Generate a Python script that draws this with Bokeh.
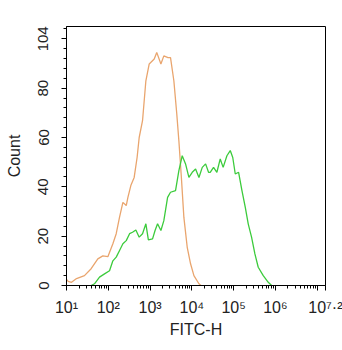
from bokeh.plotting import figure
from bokeh.models import FixedTicker
from bokeh.embed import file_html
from bokeh.resources import INLINE

# FITC-H positions given as decades (log10 of intensity) and counts
iso_log = [1.0, 1.04, 1.12, 1.24, 1.43, 1.59, 1.75, 1.87, 1.99, 2.11, 2.19, 2.27, 2.35, 2.43,
           2.47, 2.54, 2.62, 2.69, 2.74, 2.82, 2.90, 2.98, 3.10, 3.16, 3.26, 3.33, 3.43, 3.49,
           3.57, 3.64, 3.69, 3.75, 3.81, 3.89, 3.97, 4.05, 4.17, 4.22]
iso_count = [2.5, 1.7, 1.3, 2.8, 4.0, 6.8, 10.8, 12.0, 11.7, 16.9, 21.0, 27.7, 33.7, 32.4,
             35.7, 40.5, 43.8, 51.9, 60.0, 66.8, 83.0, 89.8, 91.8, 94.5, 89.8, 93.1, 92.4, 92.4,
             83.0, 69.5, 58.7, 43.8, 27.6, 15.5, 8.8, 4.0, 0.7, 0.0]

ab_log = [1.59, 1.67, 1.79, 1.91, 2.03, 2.11, 2.19, 2.27, 2.35, 2.43, 2.51, 2.58, 2.66, 2.74,
          2.82, 2.90, 2.96, 3.06, 3.12, 3.18, 3.26, 3.33, 3.42, 3.49, 3.61, 3.69, 3.77, 3.85,
          3.93, 4.01, 4.09, 4.17, 4.25, 4.33, 4.40, 4.44, 4.52, 4.60, 4.68, 4.75, 4.84, 4.92,
          4.98, 5.04, 5.12, 5.20, 5.28, 5.35, 5.43, 5.51, 5.59, 5.71, 5.83, 5.91]
ab_count = [0.0, 0.7, 3.4, 4.7, 6.0, 10.0, 11.5, 14.2, 16.9, 18.2, 21.0, 21.6, 22.5, 19.6,
            21.0, 25.0, 18.5, 18.9, 22.3, 25.0, 22.3, 26.3, 35.7, 37.8, 38.5, 46.6, 52.6, 49.3,
            43.8, 45.9, 47.2, 43.8, 47.9, 49.3, 45.9, 45.9, 47.9, 45.9, 51.3, 47.9, 52.6, 54.7,
            51.9, 45.2, 45.9, 38.5, 31.7, 25.0, 19.6, 12.8, 7.4, 4.0, 1.3, 0.0]

x_tick_exp = [1, 2, 3, 4, 5, 6, 7, 7.2]
x_tick_labels = ["10¹", "10²", "10³", "10⁴", "10⁵", "10⁶", "", "10⁷·²"]
y_ticks = [0, 20, 40, 60, 80, 100]
y_tick_labels = ["0", "20", "40", "60", "80", "104"]

FONT = "Liberation Sans"

p = figure(width=342, height=350, x_axis_type="log",
           x_range=(10 ** 1, 10 ** 7.2), y_range=(0, 105),
           output_backend="svg", toolbar_location=None,
           min_border_left=66, min_border_right=17, min_border_top=26, min_border_bottom=65)

p.line([10 ** v for v in iso_log], iso_count, line_color="#E9A56E", line_width=1.3)
p.line([10 ** v for v in ab_log], ab_count, line_color="#3CCB3C", line_width=1.3)

xt = [10 ** v for v in x_tick_exp]
x_minor = [k * 10 ** d for d in range(1, 7) for k in range(2, 10)]
p.xaxis.ticker = FixedTicker(ticks=xt, minor_ticks=x_minor)
p.xaxis.major_label_overrides = {t: lab for t, lab in zip(xt, x_tick_labels)}
p.yaxis.ticker = FixedTicker(ticks=y_ticks, minor_ticks=list(range(0, 105, 4)))
p.yaxis.major_label_overrides = {t: lab for t, lab in zip(y_ticks, y_tick_labels)}
p.yaxis.major_label_orientation = "vertical"

p.xaxis.axis_label = "FITC-H"
p.yaxis.axis_label = "Count"

for ax in (p.xaxis[0], p.yaxis[0]):
    ax.axis_line_color = "black"
    ax.major_tick_line_color = "black"
    ax.minor_tick_line_color = "black"
    ax.major_tick_in = 0
    ax.major_tick_out = 5
    ax.minor_tick_in = 0
    ax.minor_tick_out = 3
    ax.major_label_text_font = FONT
    ax.major_label_text_color = "#222222"
    ax.axis_label_text_font = FONT
    ax.axis_label_text_font_size = "16px"
    ax.axis_label_text_font_style = "normal"
    ax.axis_label_text_color = "#222222"

p.xaxis.major_label_text_font_size = "16px"
p.yaxis.major_label_text_font_size = "15px"
p.xaxis.major_label_standoff = 8
p.xaxis.axis_label_standoff = 2
p.yaxis.major_label_standoff = 13
p.yaxis.axis_label_standoff = 13

p.xgrid.visible = False
p.ygrid.visible = False
p.outline_line_color = "black"
p.outline_line_width = 1
p.background_fill_color = "white"
p.border_fill_color = "white"

open("out.html", "w").write(file_html(p, INLINE))
